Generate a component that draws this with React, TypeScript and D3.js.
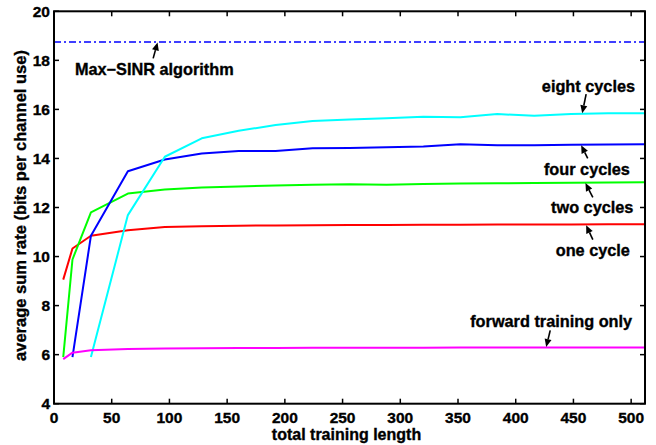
import React from "react";
import * as d3 from "d3";

const trainingLength = [8, 16, 32, 64, 96, 128, 160, 192, 224, 256, 288, 320, 352, 384, 416, 448, 480, 512];
const oneCycle = [9.06, 10.33, 10.85, 11.07, 11.2, 11.24, 11.26, 11.27, 11.28, 11.29, 11.29, 11.3, 11.3, 11.31, 11.31, 11.31, 11.32, 11.32];
const twoCycles = [5.9, 9.88, 11.8, 12.57, 12.73, 12.82, 12.86, 12.9, 12.93, 12.95, 12.93, 12.96, 12.98, 12.99, 13.0, 13.01, 13.02, 13.03];
const fourCycles = [5.9, 10.85, 13.48, 13.96, 14.2, 14.3, 14.3, 14.42, 14.43, 14.46, 14.49, 14.58, 14.54, 14.54, 14.56, 14.57, 14.58];
const eightCycles = [5.9, 11.69, 14.07, 14.82, 15.13, 15.36, 15.53, 15.59, 15.64, 15.7, 15.68, 15.81, 15.74, 15.81, 15.84, 15.84];
const forwardOnly = [5.82, 6.08, 6.18, 6.23, 6.25, 6.26, 6.27, 6.27, 6.28, 6.28, 6.28, 6.28, 6.29, 6.29, 6.29, 6.29, 6.29, 6.29];
const maxSinr = 18.75;

const xTicks = [0, 50, 100, 150, 200, 250, 300, 350, 400, 450, 500];
const yTicks = [4, 6, 8, 10, 12, 14, 16, 18, 20];

const seriesNames = ["one cycle", "two cycles", "four cycles", "eight cycles", "forward training only"];
const seriesColors = ["#ff0000", "#00ff00", "#0000ff", "#00ffff", "#ff00ff"];
const seriesStart = [0, 0, 1, 2, 0];
const seriesValues = [oneCycle, twoCycles, fourCycles, eightCycles, forwardOnly];

// annotations: label, text anchor (x,y data), arrow tail, arrow tip (data coords)
const annotations = [
  { text: "Max\u2212SINR algorithm", tx: 86.9, ty: 17.4, ax: 85.9, ay: 18.08, bx: 89.7, by: 18.73 },
  { text: "eight cycles", tx: 463, ty: 16.72, ax: 461, ay: 16.62, bx: 457.6, by: 15.84 },
  { text: "four cycles", tx: 461.7, ty: 13.32, ax: 462.4, ay: 14.0, bx: 456.7, by: 14.54 },
  { text: "two cycles", tx: 466.3, ty: 11.77, ax: 466.8, ay: 12.41, bx: 460.4, by: 13.0 },
  { text: "one cycle", tx: 466.8, ty: 10.02, ax: 466.8, ay: 10.69, bx: 461, by: 11.28 },
  { text: "forward training only", tx: 430.7, ty: 7.13, ax: 429.9, ay: 6.99, bx: 426.4, by: 6.31 },
];

const W = 656;
const H = 445;
const left = 54;
const right = 645;
const top = 11.3;
const bottom = 403.7;
const font = "'Liberation Sans', Arial, Helvetica, sans-serif";

export default function App() {
  const x = d3.scaleLinear().domain([0, 512]).range([left, right]);
  const y = d3.scaleLinear().domain([4, 20]).range([bottom, top]);
  const line = d3
    .line<[number, number]>()
    .x((d) => x(d[0]))
    .y((d) => y(d[1]));

  const tick = 5;
  const textStroke = { stroke: "#000", strokeWidth: 0.35 };

  return (
    <svg width={W} height={H} style={{ position: "absolute", left: 0, top: 0, display: "block", background: "#fff" }} fontFamily={font}>
      <rect x={0} y={0} width={W} height={H} fill="#fff" />
      {seriesValues.map((vals, i) => {
        const pts = vals.map((v, j) => [trainingLength[j + seriesStart[i]], v] as [number, number]);
        return <path key={seriesNames[i]} d={line(pts) || ""} fill="none" stroke={seriesColors[i]} strokeWidth={2} strokeLinejoin="round" />;
      })}
      <line x1={x(0)} x2={x(512)} y1={y(maxSinr)} y2={y(maxSinr)} stroke="#0000ff" strokeWidth={1.6} strokeDasharray="7,3,2,3" />
      <rect x={left} y={top} width={right - left} height={bottom - top} fill="none" stroke="#000" strokeWidth={2} />
      {xTicks.map((t) => (
        <g key={"x" + t}>
          <line x1={x(t)} x2={x(t)} y1={bottom} y2={bottom - tick} stroke="#000" strokeWidth={1.5} />
          <line x1={x(t)} x2={x(t)} y1={top} y2={top + tick} stroke="#000" strokeWidth={1.5} />
          <text x={x(t)} y={423.3} textAnchor="middle" fontSize={15.5} fontWeight="bold" fill="#000" {...textStroke}>
            {t}
          </text>
        </g>
      ))}
      {yTicks.map((t) => (
        <g key={"y" + t}>
          <line x1={left} x2={left + tick} y1={y(t)} y2={y(t)} stroke="#000" strokeWidth={1.5} />
          <line x1={right} x2={right - tick} y1={y(t)} y2={y(t)} stroke="#000" strokeWidth={1.5} />
          <text x={50} y={y(t)} dy="0.36em" textAnchor="end" fontSize={15.5} fontWeight="bold" fill="#000" {...textStroke}>
            {t}
          </text>
        </g>
      ))}
      <text x={(left + right) / 2 - 3} y={439.5} textAnchor="middle" fontSize={16} fontWeight="bold" fill="#000" {...textStroke}>
        total training length
      </text>
      <text transform={`translate(25.5,${(top + bottom) / 2 - 2}) rotate(-90)`} textAnchor="middle" fontSize={16.5} fontWeight="bold" fill="#000" {...textStroke}>
        average sum rate (bits per channel use)
      </text>
      {annotations.map((a) => {
        const x1 = x(a.ax);
        const y1 = y(a.ay);
        const x2 = x(a.bx);
        const y2 = y(a.by);
        const ang = Math.atan2(y2 - y1, x2 - x1);
        const hl = 8;
        const hw = 3.5;
        const bxp = x2 - hl * Math.cos(ang);
        const byp = y2 - hl * Math.sin(ang);
        const p1 = [bxp + hw * Math.sin(ang), byp - hw * Math.cos(ang)];
        const p2 = [bxp - hw * Math.sin(ang), byp + hw * Math.cos(ang)];
        return (
          <g key={a.text}>
            <line x1={x1} y1={y1} x2={bxp} y2={byp} stroke="#000" strokeWidth={1.6} />
            <polygon points={`${x2},${y2} ${p1[0]},${p1[1]} ${p2[0]},${p2[1]}`} fill="#000" />
            <text x={x(a.tx)} y={y(a.ty)} textAnchor="middle" fontSize={16.3} fontWeight="bold" fill="#000" {...textStroke}>
              {a.text}
            </text>
          </g>
        );
      })}
    </svg>
  );
}
